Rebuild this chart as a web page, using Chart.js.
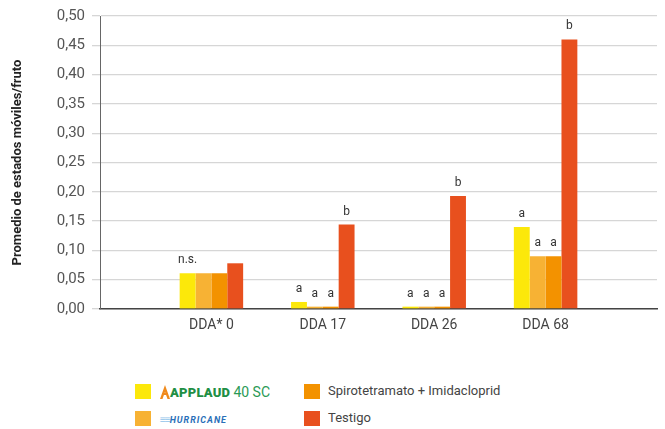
<!DOCTYPE html>
<html lang="es">
  <head>
    <meta charset="UTF-8" />
    <title>Promedio de estados móviles/fruto</title>
    <script src="https://cdn.jsdelivr.net/npm/chart.js@4.4.1/dist/chart.umd.min.js"></script>
    <style>
      body { margin: 0; background: #fff; font-family: Roboto, "Liberation Sans", sans-serif; }
      #wrap { position: relative; width: 665px; height: 429px; }
      #box { position: absolute; left: 0; top: 0; width: 665px; height: 345px; }
      .sw { position: absolute; width: 16px; height: 15px; }
      .lbl { position: absolute; font-size: 13px; color: #444; line-height: 16px; }
      .applaud { color: #1f8f45; font-weight: 900; font-size: 13px; letter-spacing: 0.2px; }
      .sc { color: #2a9a55; font-size: 14px; }
      .hurr { color: #2a6fb8; font-style: italic; font-weight: bold; font-size: 9px; letter-spacing: 1px; }
    </style>
  </head>
  <body>
    <div id="wrap">
      <div id="box"><canvas id="grafico"></canvas></div>

      <!-- leyenda -->
      <div class="sw" style="left:135px; top:384px; background:#FCE80A"></div>
      <div class="lbl" style="left:160px; top:384px">
        <svg width="10" height="14" viewBox="0 0 10 14" style="vertical-align:-2px">
          <path d="M5 0 L10 14 L7.5 14 L5 7 L2.5 14 L0 14 Z M2 8 L8 8 L8 10 L2 10 Z" fill="#f08a1c" />
        </svg><span class="applaud">APPLAUD</span> <span class="sc">40 SC</span>
      </div>
      <div class="sw" style="left:135px; top:411px; background:#F7B234"></div>
      <div class="lbl" style="left:160px; top:411px">
        <span style="color:#8fc3ea; font-size:10px; font-weight:bold; letter-spacing:-1px">≡≡</span><span class="hurr">HURRICANE</span>
      </div>
      <div class="sw" style="left:304px; top:384px; background:#F39200"></div>
      <div class="lbl" style="left:328px; top:383px">Spirotetramato + Imidacloprid</div>
      <div class="sw" style="left:304px; top:411px; background:#E8501E"></div>
      <div class="lbl" style="left:328px; top:410px">Testigo</div>
    </div>

    <script>
      // categorias (vacias en los extremos para dejar margen)
      const categorias = ["", "DDA* 0", "DDA 17", "DDA 26", "DDA 68", ""];

      const applaud = [null, 0.061, 0.012, 0.004, 0.140, null];
      const hurricane = [null, 0.061, 0.004, 0.004, 0.090, null];
      const spirotetramato = [null, 0.061, 0.004, 0.004, 0.090, null];
      const testigo = [null, 0.078, 0.144, 0.193, 0.460, null];

      // letras de significancia
      const letrasApplaud = ["", "n.s.", "a", "a", "a", ""];
      const letrasHurricane = ["", "", "a", "a", "a", ""];
      const letrasSpiro = ["", "", "a", "a", "a", ""];
      const letrasTestigo = ["", "", "b", "b", "b", ""];

      const yTicks = [0, 0.05, 0.1, 0.15, 0.2, 0.25, 0.3, 0.35, 0.4, 0.45, 0.5];

      const letras = [letrasApplaud, letrasHurricane, letrasSpiro, letrasTestigo];

      const letrasPlugin = {
        id: "letras",
        afterDatasetsDraw(chart) {
          const ctx = chart.ctx;
          ctx.save();
          ctx.font = "12px Roboto, sans-serif";
          ctx.fillStyle = "#333";
          ctx.textAlign = "center";
          ctx.textBaseline = "bottom";
          chart.data.datasets.forEach(function (ds, i) {
            chart.getDatasetMeta(i).data.forEach(function (bar, j) {
              const t = letras[i][j];
              if (t && ds.data[j] != null) {
                ctx.fillText(t, bar.x, bar.y - 7);
              }
            });
          });
          ctx.restore();
        },
      };

      const data = {
        labels: categorias,
        datasets: [
          { label: "APPLAUD 40 SC", data: applaud, backgroundColor: "#FCE80A" },
          { label: "HURRICANE", data: hurricane, backgroundColor: "#F7B234" },
          { label: "Spirotetramato + Imidacloprid", data: spirotetramato, backgroundColor: "#F39200" },
          { label: "Testigo", data: testigo, backgroundColor: "#E8501E" },
        ],
      };

      const config = {
        type: "bar",
        data: data,
        options: {
          animation: false,
          responsive: true,
          maintainAspectRatio: false,
          categoryPercentage: 0.57,
          barPercentage: 1.0,
          layout: { padding: { top: 13, right: 0, bottom: 0, left: 0 } },
          plugins: {
            legend: { display: false },
            tooltip: { enabled: false },
          },
          scales: {
            x: {
              offset: false,
              grid: { display: false, drawTicks: false },
              border: { display: true, color: "#444", width: 1.5 },
              ticks: {
                color: "#444",
                font: { family: "Roboto", size: 14 },
                padding: 8,
                maxRotation: 0,
                autoSkip: false,
              },
              afterFit: function (scale) {
                scale.height = 36;
              },
            },
            y: {
              min: 0,
              max: 0.5,
              afterBuildTicks: function (scale) {
                scale.ticks = yTicks.map(function (v) { return { value: v }; });
              },
              grid: { color: "#d6d6d6", lineWidth: 1.3, tickLength: 8, tickColor: "#d6d6d6" },
              border: { display: true, color: "#666", width: 1 },
              ticks: {
                color: "#555",
                font: { family: "Roboto", size: 15 },
                padding: 7,
                callback: function (v) {
                  return v.toFixed(2).replace(".", ",");
                },
              },
              title: {
                display: true,
                text: "Promedio de estados móviles/fruto",
                color: "#222",
                font: { family: "Roboto", size: 13, weight: "bold" },
                padding: { top: 10, bottom: 0 },
              },
              afterFit: function (scale) {
                scale.width = 100;
              },
            },
          },
        },
        plugins: [letrasPlugin],
      };

      new Chart(document.getElementById("grafico"), config);
    </script>
  </body>
</html>
